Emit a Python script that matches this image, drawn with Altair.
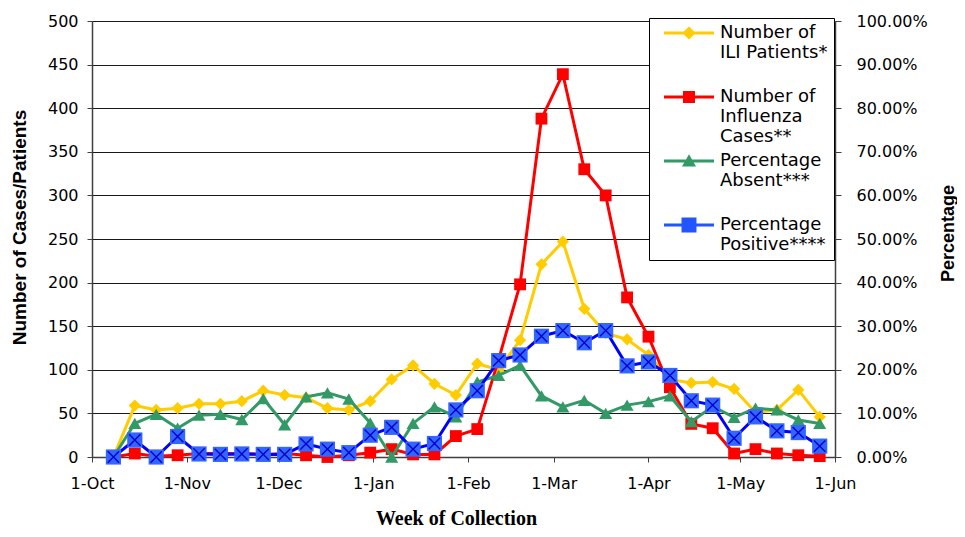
import altair as alt
import pandas as pd

# ---------------- data ----------------
week_dates = [
    "2005-10-08", "2005-10-15", "2005-10-22", "2005-10-29",
    "2005-11-05", "2005-11-12", "2005-11-19", "2005-11-26",
    "2005-12-03", "2005-12-10", "2005-12-17", "2005-12-24", "2005-12-31",
    "2006-01-07", "2006-01-14", "2006-01-21", "2006-01-28",
    "2006-02-04", "2006-02-11", "2006-02-18", "2006-02-25",
    "2006-03-04", "2006-03-11", "2006-03-18", "2006-03-25",
    "2006-04-01", "2006-04-08", "2006-04-15", "2006-04-22", "2006-04-29",
    "2006-05-06", "2006-05-13", "2006-05-20", "2006-05-27",
]
ili_patients = [0, 59, 54, 56, 61, 61, 64, 76, 71, 68, 56, 54, 64, 89, 105, 84, 71,
                107, 100, 134, 221, 247, 170, 142, 135, 117, 89, 85, 86, 78, 51, 54, 77, 46]
influenza_cases = [0, 4, 1, 2, 4, 4, 4, 3, 4, 2, 0, 2, 5, 9, 3, 3, 24,
                   32, 112, 198, 388, 439, 330, 300, 183, 138, 80, 38, 33, 4, 9, 4, 2, 1]
percent_absent = [0, 7.7, 9.8, 6.6, 9.6, 9.8, 8.6, 13.4, 7.4, 13.8, 14.7, 13.3, 7.8, 0, 7.7, 11.5, 9.2,
                  17.2, 18.7, 21.0, 14.0, 11.5, 13.0, 10.0, 11.9, 12.7, 14.0, 8.1, 11.6, 9.1, 11.2, 10.8, 8.5, 7.7]
percent_positive = [0, 3.9, 0, 4.7, 0.7, 0.6, 0.7, 0.6, 0.6, 3.0, 1.8, 1.0, 5.0, 6.8, 1.8, 3.1, 10.8,
                    15.2, 22.1, 23.4, 27.7, 29.0, 26.2, 29.0, 20.9, 21.8, 18.7, 12.9, 11.9, 4.3, 9.2, 6.0, 5.6, 2.5]

series_labels = [
    "Number of|ILI Patients*",
    "Number of|Influenza|Cases**",
    "Percentage|Absent***",
    "Percentage|Positive****",
]
series_colors = ["#FFCC00", "#FF0000", "#339966", "#2255FF"]
# legend glyphs: a line segment with the series marker on it (units of 8 px)
legend_symbols = [
    "M0,-1M0,6.125M0,-0.19H6.25V0.19H0Z M3.125,-0.81L3.94,0L3.125,0.81L2.31,0Z",
    "M0,-1M0,6.125M0,-0.19H6.25V0.19H0Z M2.375,-0.75H3.875V0.75H2.375Z",
    "M0,-1M0,6.125M0,-0.19H6.25V0.19H0Z M3.125,-0.85L4.0,0.7L2.25,0.7Z",
    "M0,-1M0,-0.19H6.25V0.19H0Z M2.19,-0.94H4.06V0.94H2.19Z",
]
month_ticks = [(2005, 10), (2005, 11), (2005, 12), (2006, 1), (2006, 2),
               (2006, 3), (2006, 4), (2006, 5), (2006, 6)]
left_ticks = [0, 50, 100, 150, 200, 250, 300, 350, 400, 450, 500]
right_ticks = [0, 0.1, 0.2, 0.3, 0.4, 0.5, 0.6, 0.7, 0.8, 0.9, 1.0]

df = pd.DataFrame({
    "date": week_dates,
    "ili": ili_patients,
    "flu": influenza_cases,
    "absent": [v / 100 for v in percent_absent],
    "positive": [v / 100 for v in percent_positive],
})
legend_df = pd.DataFrame({"series": series_labels})

LABEL_FONT = "DejaVu Sans"
TITLE_FONT = "Liberation Sans"


def dt(y, m):
    return alt.DateTime(year=y, month=m, date=1, utc=True)


x_enc = alt.X(
    "date:T",
    scale=alt.Scale(type="utc", domain=[dt(2005, 10), dt(2006, 6)]),
    axis=alt.Axis(
        values=[dt(y, m) for y, m in month_ticks],
        labelExpr="utcFormat(datum.value, '%-d-%b')",
        title="Week of Collection",
        titleFont="Liberation Serif", titleFontSize=20, titleFontWeight="bold",
        titleColor="black", titleBaseline="alphabetic", titleX=364, titleY=67,
        labelFont=LABEL_FONT, labelFontSize=16, labelColor="black",
        labelPadding=13, labelFlush=False, labelOverlap=False,
        tickSize=5, tickColor="#404040", domainColor="#404040", domainWidth=1.5,
        grid=False,
    ),
)

left_axis = alt.Axis(
    values=left_ticks, title="Number of Cases/Patients",
    titleFont=TITLE_FONT, titleFontSize=19, titleFontWeight="bold", titleColor="black",
    titleX=-73, titleY=206, titleBaseline="middle",
    labelFont=LABEL_FONT, labelFontSize=16, labelColor="black",
    labelPadding=9, labelFlush=False,
    tickSize=5, tickColor="#404040", domainColor="#404040", domainWidth=1.5,
    grid=True, gridColor="black", gridWidth=1, gridOpacity=0.9,
)
right_axis = alt.Axis(
    orient="right", values=right_ticks, format=".2%", title="Percentage",
    titleFont=TITLE_FONT, titleFontSize=18, titleFontWeight="bold", titleColor="black",
    titleAngle=270, titleX=113, titleY=212, titleBaseline="middle",
    labelFont=LABEL_FONT, labelFontSize=16, labelColor="black",
    labelPadding=15, labelFlush=False,
    tickSize=6, tickColor="#404040", domainColor="#404040", domainWidth=1.5,
    grid=False,
)


def left_y(field):
    return alt.Y(field, type="quantitative", scale=alt.Scale(domain=[0, 500]), axis=left_axis)


def right_y(field):
    return alt.Y(field, type="quantitative", scale=alt.Scale(domain=[0, 1]), axis=right_axis)


base = alt.Chart(df)

yl_line = base.mark_line(color="#FFCC00", strokeWidth=3).encode(x=x_enc, y=left_y("ili"))
yl_pts = base.mark_point(shape="diamond", filled=True, color="#FFCC00", size=150, opacity=1).encode(x=x_enc, y=left_y("ili"))
rd_line = base.mark_line(color="#FF0000", strokeWidth=3).encode(x=x_enc, y=left_y("flu"))
rd_pts = base.mark_point(shape="square", filled=True, color="#FF0000", size=140, opacity=1).encode(x=x_enc, y=left_y("flu"))

legend_spec = alt.Legend(
    orient="none", legendX=557, legendY=-3, title=None,
    labelExpr="split(datum.label, '|')",
    labelFont=LABEL_FONT, labelFontSize=18, labelColor="black", labelOffset=47,
    symbolSize=256, symbolOpacity=1, symbolStrokeWidth=0,
    strokeColor="black", fillColor="white", padding=6, rowPadding=6, cornerRadius=0,
)
legend_layer = alt.Chart(legend_df).mark_point(filled=True, opacity=0).encode(
    color=alt.Color("series:N", scale=alt.Scale(domain=series_labels, range=series_colors), legend=legend_spec),
    shape=alt.Shape("series:N", scale=alt.Scale(domain=series_labels, range=legend_symbols), legend=legend_spec),
)

gr_line = base.mark_line(color="#339966", strokeWidth=3).encode(x=x_enc, y=right_y("absent"))
gr_pts = base.mark_point(shape="triangle-up", filled=True, color="#339966", size=170, opacity=1).encode(x=x_enc, y=right_y("absent"))
bl_line = base.mark_line(color="#0000FF", strokeWidth=3).encode(x=x_enc, y=right_y("positive"))
bl_pts = base.mark_point(shape="square", filled=True, color="#3366FF", size=230, opacity=1).encode(x=x_enc, y=right_y("positive"))
bl_x = base.mark_point(shape="M-0.75,-0.75L0.75,0.75M0.75,-0.75L-0.75,0.75", filled=False,
                       color="#0000CC", strokeWidth=1.4, size=230, opacity=1).encode(x=x_enc, y=right_y("positive"))

left = alt.layer(yl_line, yl_pts, rd_line, rd_pts, legend_layer)
right = alt.layer(gr_line, gr_pts, bl_line, bl_pts, bl_x)

chart = alt.layer(left, right).resolve_scale(y="independent").properties(
    width=743, height=436,
    autosize=alt.AutoSizeParams(type="none"),
    padding={"left": 84, "top": 13, "right": 122, "bottom": 72},
).configure_view(stroke=None)

chart.save("out.html", embed_options={"renderer": "svg", "actions": False})
